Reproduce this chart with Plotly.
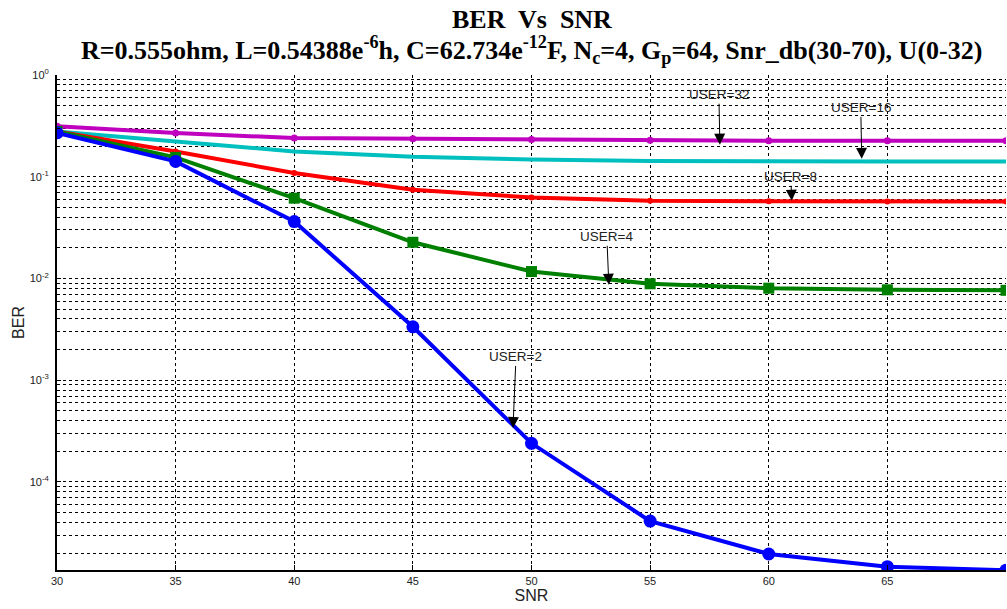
import numpy as np
import plotly.graph_objects as go

snr = [30, 35, 40, 45, 50, 55, 60, 65, 70]
ber_user2 = [0.270, 0.1415, 0.0363, 0.00335, 0.000240, 0.0000413, 0.0000196, 0.0000147, 0.0000136]
ber_user4 = [0.279, 0.155, 0.0616, 0.0227, 0.0117, 0.00887, 0.00803, 0.00774, 0.00765]
ber_user8 = [0.279, 0.177, 0.109, 0.0744, 0.0626, 0.058, 0.0575, 0.057, 0.057]
ber_user16 = [0.279, 0.222, 0.177, 0.157, 0.148, 0.143, 0.141, 0.141, 0.141]
ber_user32 = [0.313, 0.269, 0.240, 0.236, 0.232, 0.228, 0.226, 0.226, 0.226]

# annotation: (label, x tip, BER tip, text dx, text dy)
notes = [
    ("USER=32", 57.94, 0.2065, -1, -50),
    ("USER=16", 63.92, 0.150, -1, -51),
    ("USER=8", 60.97, 0.0581, -1, -24),
    ("USER=4", 53.26, 0.00867, -2, -48),
    ("USER=2", 49.22, 0.000340, 3, -71),
]

title_line1 = "<b>BER  Vs  SNR</b>"
title_line2 = ("<b>R=0.555ohm, L=0.54388e<sup>-6</sup>h, C=62.734e<sup>-12</sup>F, "
               "N<sub>c</sub>=4, G<sub>p</sub>=64, Snr_db(30-70), U(0-32)</b>")

x_ticks = [30, 35, 40, 45, 50, 55, 60, 65, 70]
decades = [-5, -4, -3, -2, -1, 0]

fig = go.Figure()
fig.add_trace(go.Scatter(x=snr, y=ber_user32, mode="lines+markers",
                         line=dict(color="#BF00BF", width=4),
                         marker=dict(symbol="circle", size=7, color="#BF00BF"), name="USER=32"))
fig.add_trace(go.Scatter(x=snr, y=ber_user16, mode="lines",
                         line=dict(color="#00BFBF", width=4), name="USER=16"))
fig.add_trace(go.Scatter(x=snr, y=ber_user8, mode="lines+markers",
                         line=dict(color="#FF0000", width=4),
                         marker=dict(symbol="circle", size=6, color="#FF0000"), name="USER=8"))
fig.add_trace(go.Scatter(x=snr, y=ber_user4, mode="lines+markers",
                         line=dict(color="#008000", width=4),
                         marker=dict(symbol="square", size=11, color="#008000"), name="USER=4"))
fig.add_trace(go.Scatter(x=snr, y=ber_user2, mode="lines+markers",
                         line=dict(color="#0000FF", width=4),
                         marker=dict(symbol="circle", size=13, color="#0000FF"), name="USER=2"))

for label, xt, yt, dx, dy in notes:
    fig.add_annotation(x=xt, y=np.log10(yt), text=label, showarrow=True,
                       ax=dx, ay=dy, arrowhead=2, arrowsize=2.2, arrowwidth=1,
                       arrowcolor="black", font=dict(family="Liberation Sans", size=13.5, color="#222"))

# title lines as paper annotations
fig.add_annotation(text=title_line1, xref="paper", yref="paper", x=0.5, y=1 + 55 / 495,
                   xanchor="center", yanchor="middle", showarrow=False,
                   font=dict(family="Liberation Serif", size=26, color="black"))
fig.add_annotation(text=title_line2, xref="paper", yref="paper", x=0.5, y=1 + 25 / 495,
                   xanchor="center", yanchor="middle", showarrow=False,
                   font=dict(family="Liberation Serif", size=26, color="black"))

yvals = [10.0 ** k for k in decades]
ytext = [f"10<sup>{k}</sup>" for k in decades]

fig.update_layout(
    width=1007, height=609,
    margin=dict(l=57, r=1, t=75, b=39),
    paper_bgcolor="white", plot_bgcolor="white",
    showlegend=False,
    xaxis=dict(
        range=[30, 70], tickvals=x_ticks, ticktext=[str(t) for t in x_ticks],
        showgrid=True, gridcolor="black", griddash="dot", gridwidth=1,
        showline=True, linecolor="black", linewidth=2, mirror=False,
        ticks="inside", ticklen=5, tickcolor="black",
        tickfont=dict(family="Liberation Sans", size=11, color="#222"),
        title=dict(text="SNR", font=dict(family="Liberation Sans", size=16, color="#222"), standoff=4),
        zeroline=False,
    ),
    yaxis=dict(
        type="log", range=[-4.865, 0],
        tickvals=yvals, ticktext=ytext,
        showgrid=True, gridcolor="black", griddash="dot", gridwidth=1,
        showline=True, linecolor="black", linewidth=2, mirror=False,
        ticks="inside", ticklen=4, tickcolor="black",
        tickfont=dict(family="Liberation Sans", size=11, color="#222"),
        ticklabelstandoff=4,
        minor=dict(dtick="D1", showgrid=True, gridcolor="black", griddash="dot", gridwidth=1,
                   ticks="inside", ticklen=3, tickcolor="black"),
        title=dict(text="BER", font=dict(family="Liberation Sans", size=16, color="#222"), standoff=1),
        zeroline=False,
    ),
)

fig.write_html("out.html")
